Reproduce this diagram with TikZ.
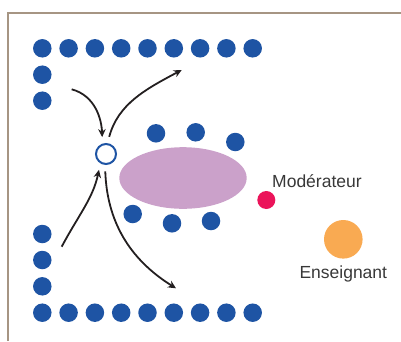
\documentclass[tikz,border=0pt]{standalone}
\usepackage{fontspec}
\setmainfont{Liberation Sans}
\usepackage{xcolor}
\usetikzlibrary{shapes.geometric, arrows.meta, positioning}
\definecolor{seatblue}{HTML}{1E54A4}
\definecolor{tablemauve}{HTML}{CBA1CA}
\definecolor{modred}{HTML}{EB145A}
\definecolor{teachorange}{HTML}{F9AA52}
\definecolor{framegrey}{HTML}{A69583}
\definecolor{arrowblack}{HTML}{231F20}
\definecolor{textgrey}{HTML}{383838}
\begin{document}
\begin{tikzpicture}[
        x=1pt, y=1pt,
        seat/.style={circle, fill=seatblue, minimum size=18.5pt, inner sep=0pt},
        hub/.style={circle, draw=seatblue, line width=2pt, fill=white, minimum size=20pt, inner sep=0pt},
        arrow/.style={-{Stealth[length=8pt, width=7.5pt]}, line width=1.8pt, draw=arrowblack},
        tag/.style={text=textgrey, font=\fontsize{17.5}{20}\selectfont, inner sep=0pt}
    ]
        \useasboundingbox (0,0) rectangle (401,-341);
        \draw[framegrey, line width=1.2pt] (8,-341) |- (401,-13);
        % rows of seats
        \foreach \i in {0,...,8} {
            \node[seat] (top\i) at ({42.3+26.3*\i},-48.3) {};
            \node[seat] (bot\i) at ({42.3+26.3*\i},-312.7) {};
        }
        \node[seat] (lu1) at (42.3,-74.7) {};
        \node[seat] (lu2) at (42.3,-100.7) {};
        \node[seat] (ll1) at (42.3,-234) {};
        \node[seat] (ll2) at (42.3,-260) {};
        \node[seat] (ll3) at (42.3,-286.3) {};
        % inner circle round the table
        \node[ellipse, fill=tablemauve, minimum width=127.4pt, minimum height=61.6pt, inner sep=0pt] (table) at (183,-178) {};
        \node[seat] (in1) at (156,-133.3) {};
        \node[seat] (in2) at (195.7,-132.3) {};
        \node[seat] (in3) at (235.3,-142) {};
        \node[seat] (in4) at (132.7,-214) {};
        \node[seat] (in5) at (172,-223.3) {};
        \node[seat] (in6) at (211,-221) {};
        \node[hub] (hub) at (106,-154) {};
        % moderator and teacher
        \node[circle, fill=modred, minimum size=18pt, inner sep=0pt] (moderator) at (266.3,-200) {};
        \node[tag, anchor=base west] (modlabel) at (272,-187.3) {Modérateur};
        \node[circle, fill=teachorange, minimum size=38.6pt, inner sep=0pt] (teacher) at (343.3,-239.3) {};
        \node[tag, anchor=base] (teachlabel) at (343.3,-278.3) {Enseignant};
        % moves in and out
        \coordinate (from1) at (71.7,-89.3);
        \coordinate (to2) at (181.7,-70);
        \coordinate (from3) at (61.7,-246.7);
        \coordinate (to4) at (176,-288.3);
        \draw[arrow, shorten >=6.5pt] (from1) to[out=-15, in=92] (hub.109);
        \draw[arrow, shorten <=6.5pt] (hub.82) to[out=75, in=208] (to2);
        \draw[arrow, shorten >=6.5pt] (from3) to[out=62, in=-102] (hub.239);
        \draw[arrow, shorten <=6.5pt] (hub.265) to[out=-88, in=148] (to4);
    \end{tikzpicture}
\end{document}
